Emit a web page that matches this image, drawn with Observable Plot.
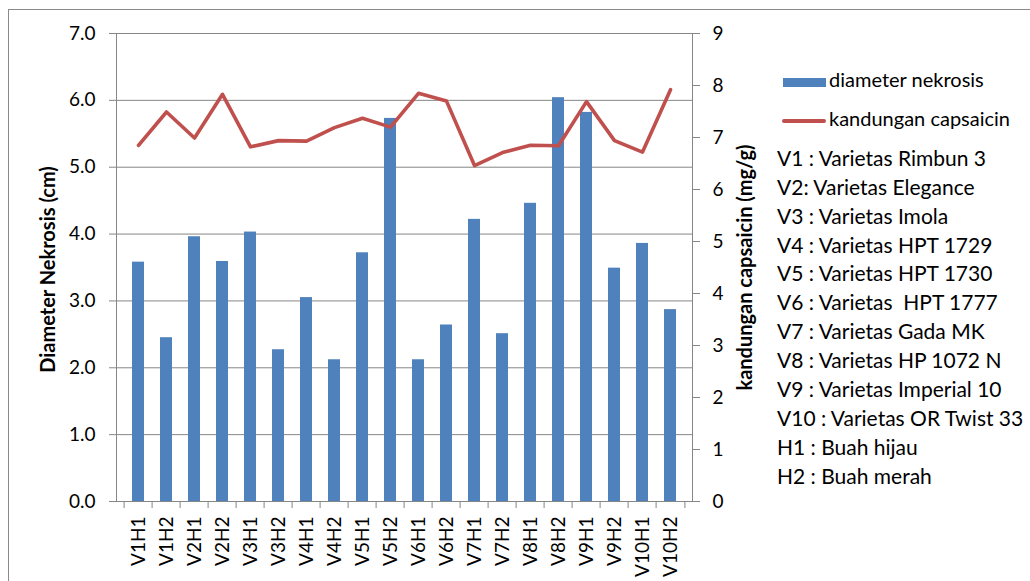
<!DOCTYPE html>
<html>
<head>
<meta charset="utf-8">
<script src="https://cdn.jsdelivr.net/npm/d3@7"></script>
<script src="https://cdn.jsdelivr.net/npm/@observablehq/plot@0.6"></script>
<style>
  html, body { margin: 0; padding: 0; background: #fff; overflow: hidden; }
  #wrap { position: relative; width: 1030px; height: 581px; overflow: hidden; font-family: Lato, sans-serif; }
  #border { position: absolute; left: 8px; top: 9px; width: 1100px; height: 700px; border: 1.5px solid #8a8a8a; box-sizing: border-box; }
  #chart { position: absolute; left: 0; top: 0; }
  .leg { position: absolute; color: #000; white-space: nowrap; line-height: 1; }
</style>
</head>
<body>
<div id="wrap">
  <div id="border"></div>
  <div id="chart"></div>
  <div id="legend"></div>
</div>
<script>
const categories = ["V1H1","V1H2","V2H1","V2H2","V3H1","V3H2","V4H1","V4H2","V5H1","V5H2",
                    "V6H1","V6H2","V7H1","V7H2","V8H1","V8H2","V9H1","V9H2","V10H1","V10H2"];
const diameter = [3.58, 2.45, 3.96, 3.59, 4.03, 2.27, 3.05, 2.12, 3.72, 5.73,
                  2.12, 2.64, 4.22, 2.51, 4.46, 6.04, 5.82, 3.49, 3.86, 2.87];
const capsaicin = [6.85, 7.49, 6.99, 7.83, 6.82, 6.94, 6.93, 7.19, 7.37, 7.20,
                   7.85, 7.70, 6.46, 6.71, 6.85, 6.84, 7.69, 6.94, 6.72, 7.92];
const leftTicks = [0, 1, 2, 3, 4, 5, 6, 7];
const rightTicks = [0, 1, 2, 3, 4, 5, 6, 7, 8, 9];
const seriesNames = ["diameter nekrosis", "kandungan capsaicin"];
const notes = ["V1 : Varietas Rimbun 3", "V2: Varietas Elegance", "V3 : Varietas Imola",
               "V4 : Varietas HPT 1729", "V5 : Varietas HPT 1730", "V6 : Varietas\u00a0 HPT 1777",
               "V7 : Varietas Gada MK", "V8 : Varietas HP 1072 N", "V9 : Varietas Imperial 10",
               "V10 : Varietas OR Twist 33", "H1 : Buah hijau", "H2 : Buah merah"];
const leftTitle = "Diameter Nekrosis (cm)";
const rightTitle = "kandungan capsaicin (mg/g)";

const k = 7 / 9; // right axis (0-9) mapped onto left scale (0-7)
const data = categories.map((c, i) => ({cat: c, d: diameter[i], c: capsaicin[i]}));
const grey = "#868686";
const half = 576 / 20 / 2;

const chart = Plot.plot({
  width: 1030,
  height: 581,
  marginLeft: 116,
  marginRight: 338,
  marginTop: 33,
  marginBottom: 80,
  style: {fontFamily: "Lato, sans-serif", fontSize: "19px", color: "#000", background: "transparent"},
  x: {domain: categories, paddingInner: 0.58, paddingOuter: 0.29, axis: null},
  y: {domain: [0, 7], axis: null},
  marks: [
    Plot.gridY(leftTicks, {stroke: grey, strokeOpacity: 1, strokeWidth: 1}),
    Plot.barY(data, {x: "cat", y: "d", fill: "#4F81BD"}),
    Plot.line(data, {x: "cat", y: d => d.c * k, stroke: "#C0504D", strokeWidth: 3.6}),
    Plot.frame({stroke: grey}),
    Plot.axisY(leftTicks, {anchor: "left", tickFormat: d => d.toFixed(1), tickSize: 7, tickPadding: 14,
                           stroke: grey, fill: "#000", fontSize: 19, label: null}),
    Plot.axisY(rightTicks.map(v => v * k), {anchor: "right", tickFormat: d => String(Math.round(d / k)),
                           tickSize: 7, tickPadding: 13, stroke: grey, fill: "#000", fontSize: 19, label: null}),
    Plot.axisX({anchor: "bottom", tickRotate: -90, tickSize: 0, tickPadding: 15, fontSize: 19, fill: "#000", label: null}),
    Plot.ruleX(categories, {x: d => d, dx: -half, y1: 0, y2: -0.105, stroke: grey}),
    Plot.ruleX([categories[categories.length - 1]], {x: d => d, dx: half, y1: 0, y2: -0.105, stroke: grey}),
    Plot.text([leftTitle], {text: d => d, frameAnchor: "left", textAnchor: "middle", dx: -68, dy: 2, rotate: -90,
                            fontWeight: "bold", fontSize: 20, fill: "#000"}),
    Plot.text([rightTitle], {text: d => d, frameAnchor: "right", textAnchor: "middle", dx: 53, rotate: -90,
                             fontWeight: "bold", fontSize: 20, fill: "#000"})
  ]
});
document.getElementById("chart").appendChild(chart);

// Legend and notes (HTML)
const legend = document.getElementById("legend");
function add(html, style) {
  const el = document.createElement("div");
  el.className = "leg";
  el.innerHTML = html;
  Object.assign(el.style, style);
  legend.appendChild(el);
}
add("", {left: "783px", top: "78px", width: "43px", height: "9px", background: "#4F81BD"});
add(seriesNames[0], {left: "829px", top: "69px", fontSize: "20px"});
add("", {left: "782px", top: "119px", width: "44px", height: "3.6px", background: "#C0504D", borderRadius: "2px"});
add(seriesNames[1], {left: "829px", top: "108px", fontSize: "20px"});
notes.forEach((t, i) => {
  add(t, {left: "777px", top: (147 + i * 28.87) + "px", fontSize: "21px"});
});
</script>
</body>
</html>
